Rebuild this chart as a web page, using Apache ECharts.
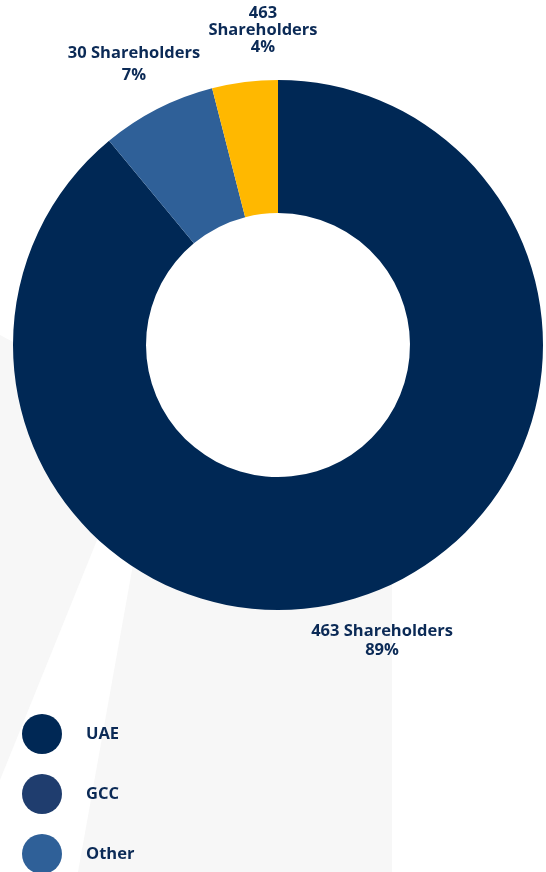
<!DOCTYPE html>
<html>
<head>
<meta charset="utf-8">
<script src="https://cdn.jsdelivr.net/npm/echarts@6/dist/echarts.min.js"></script>
<style>
  html, body { margin: 0; padding: 0; background: #ffffff; }
  #chart { width: 546px; height: 872px; }
</style>
</head>
<body>
<div id="chart"></div>
<script>
// Shareholder distribution by region
const categories = ['UAE', 'GCC', 'Other'];
const shares = [89, 7, 4];              // percent of shares
const shareholders = [463, 30, 463];    // shareholder counts shown in labels
const sliceColors = ['#002855', '#2f6098', '#ffb800'];
const legendColors = ['#002855', '#1f3d6e', '#2f6098'];

const TEXT = '#0b2a56';
const FONT = '"Open Sans", "Noto Sans", sans-serif';
const CX = 278, CY = 345, R_IN = 132, R_OUT = 265;

// Label anchor points and line spacing for each slice
const labelAnchors = [
  { x: 382, y: 641, lh: 19, text: (i) => shareholders[i] + ' Shareholders\n' + shares[i] + '%' },
  { x: 134, y: 64,  lh: 22, text: (i) => shareholders[i] + ' Shareholders\n' + shares[i] + '%' },
  { x: 263, y: 30,  lh: 17, text: (i) => shareholders[i] + '\nShareholders\n' + shares[i] + '%' }
];

const chart = echarts.init(document.getElementById('chart'), null, { renderer: 'canvas' });

// one legend block per category, stacked down the lower-left corner
const legends = categories.map((name, i) => ({
  orient: 'vertical',
  left: 17,
  top: 709 + i * 60,
  icon: 'circle',
  itemWidth: 40,
  itemHeight: 40,
  selectedMode: false,
  data: [{ name, itemStyle: { color: legendColors[i] } }],
  textStyle: {
    color: TEXT,
    fontFamily: FONT,
    fontWeight: 'bold',
    fontSize: 16.5,
    padding: [0, 0, 0, 19]
  }
}));

chart.setOption({
  animation: false,
  backgroundColor: '#ffffff',
  graphic: {
    elements: [
      // faint background beams
      { type: 'polygon', z: -10, silent: true,
        shape: { points: [[0, 335], [148, 414], [0, 780]] },
        style: { fill: '#f7f7f7' } },
      { type: 'polygon', z: -10, silent: true,
        shape: { points: [[159, 419], [392, 543], [392, 872], [78, 872]] },
        style: { fill: '#f7f7f7' } },
      // clean white centre of the ring
      { type: 'circle', z: -5, silent: true,
        shape: { cx: CX, cy: CY, r: R_IN },
        style: { fill: '#ffffff' } }
    ]
  },
  legend: legends,
  series: [{
    type: 'pie',
    center: [CX, CY],
    radius: [R_IN, R_OUT],
    startAngle: 90,
    clockwise: true,
    silent: true,
    emphasis: { disabled: true },
    itemStyle: { borderWidth: 0 },
    labelLine: { show: false },
    label: {
      show: true,
      position: 'inside',
      color: TEXT,
      fontFamily: FONT,
      fontWeight: 'bold',
      fontSize: 16.5,
      align: 'center',
      overflow: 'none',
      formatter: (p) => labelAnchors[p.dataIndex].text(p.dataIndex)
    },
    labelLayout: (params) => {
      const a = labelAnchors[params.dataIndex];
      return { x: a.x, y: a.y, align: 'center', verticalAlign: 'middle' };
    },
    data: categories.map((name, i) => ({
      name,
      value: shares[i],
      itemStyle: { color: sliceColors[i] },
      label: { lineHeight: labelAnchors[i].lh }
    }))
  }]
});
</script>
</body>
</html>
